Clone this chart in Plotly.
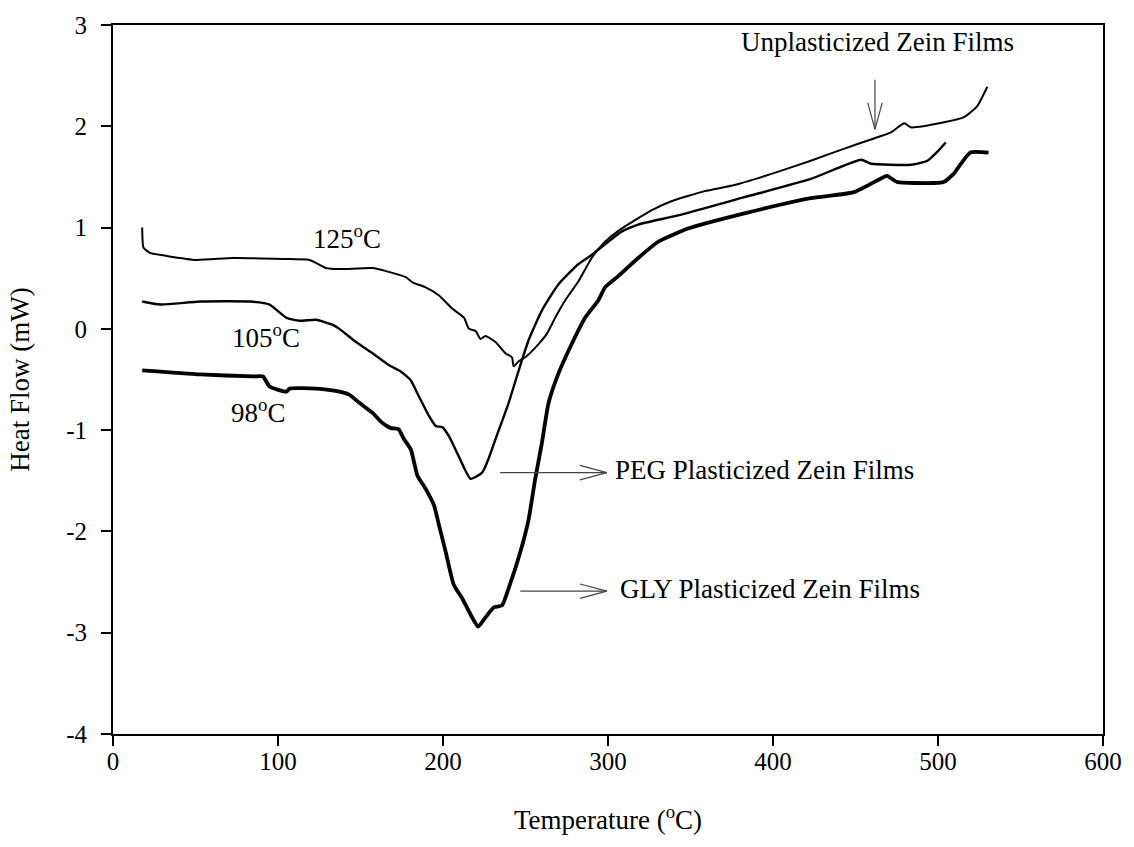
import plotly.graph_objects as go

# DSC thermograms of zein films: temperature (°C) vs heat flow (mW)
unplast_temp = [17.7, 18.5, 22.5, 32.6, 50.7, 72.8, 103, 119.1, 129.2, 137.2, 157.3, 165.4,
                177.5, 181.5, 189.5, 197.6, 205.6, 212.7, 215.7, 219.7, 222.7, 225.7, 231.8,
                237.8, 241.8, 242.8, 245.9, 249.9, 257.9, 262.9, 268, 274, 282.1, 290.1,
                298.2, 308.2, 326.3, 338.4, 358.6, 376.7, 402.8, 422.9, 443.3, 459.4, 471.5,
                479.6, 483.5, 503.7, 515.8, 523.8, 529.9]
unplast_flow = [1.00, 0.80, 0.75, 0.72, 0.68, 0.70, 0.69, 0.68, 0.60, 0.59, 0.60, 0.57,
                0.51, 0.46, 0.41, 0.33, 0.20, 0.11, 0.00, -0.02, -0.10, -0.07, -0.13,
                -0.24, -0.28, -0.37, -0.32, -0.28, -0.15, -0.05, 0.11, 0.28, 0.47, 0.70,
                0.86, 0.99, 1.17, 1.26, 1.36, 1.42, 1.55, 1.66, 1.78, 1.87, 1.94,
                2.03, 1.99, 2.04, 2.09, 2.20, 2.39]

peg_temp = [17.7, 28.6, 52.7, 82.9, 94.9, 105, 113.1, 123.1, 133.2, 137.2, 147.3, 157.3,
            167.4, 174.4, 180.5, 185.5, 191.5, 195.6, 199.6, 203.6, 209.6, 216.7, 223.7,
            226.7, 231.8, 239.8, 245.9, 251.9, 259.9, 270, 282.1, 290.1, 308.2, 318.3,
            342.5, 382.7, 422.9, 453.3, 459.4, 483.5, 493.6, 499.7, 504.7]
peg_flow = [0.27, 0.24, 0.27, 0.27, 0.24, 0.11, 0.08, 0.09, 0.04, 0.00, -0.13, -0.24,
            -0.36, -0.42, -0.51, -0.67, -0.86, -0.96, -0.97, -1.06, -1.26, -1.48, -1.42,
            -1.32, -1.09, -0.73, -0.41, -0.11, 0.18, 0.44, 0.64, 0.73, 0.96, 1.03,
            1.12, 1.30, 1.48, 1.67, 1.63, 1.62, 1.66, 1.75, 1.84]

gly_temp = [17.7, 52.7, 84.9, 90.9, 94.9, 105, 107, 123.1, 137.2, 143.2, 149.3, 157.3,
            163.3, 168.4, 173, 176.4, 180.5, 182.5, 184.5, 189.5, 194.5, 197.6, 201.6,
            206.6, 211.6, 216.7, 221.3, 225.7, 230.8, 235.8, 239.8, 246.9, 251.9, 255.9,
            259.9, 264, 270, 278, 286.1, 294.1, 298.2, 306.2, 318.3, 330.4, 348.5,
            382.7, 422.9, 449.1, 467.2, 469.2, 475.2, 497.4, 503.4, 509.4, 519.5, 530.6]
gly_flow = [-0.41, -0.45, -0.47, -0.47, -0.57, -0.62, -0.59, -0.59, -0.62, -0.65, -0.73, -0.83,
            -0.93, -0.98, -0.99, -1.09, -1.19, -1.32, -1.45, -1.58, -1.74, -1.94, -2.20,
            -2.53, -2.66, -2.82, -2.94, -2.85, -2.75, -2.73, -2.56, -2.20, -1.88, -1.48,
            -1.13, -0.73, -0.44, -0.15, 0.11, 0.28, 0.41, 0.52, 0.70, 0.86, 0.99,
            1.14, 1.29, 1.35, 1.50, 1.51, 1.45, 1.44, 1.45, 1.53, 1.74, 1.74]

x_ticks = [0, 100, 200, 300, 400, 500, 600]
y_ticks = [-4, -3, -2, -1, 0, 1, 2, 3]
y_tick_text = ["-4", "-3", "-2", "-1", "0", "1", "2", "3"]

# Onset-temperature labels next to each curve
onset_labels = ["125<sup>o</sup>C", "105<sup>o</sup>C", "98<sup>o</sup>C"]
onset_x = [141.7, 92.5, 87.7]
onset_y = [0.91, -0.07, -0.81]

# Curve names with pointer arrows (tail -> tip)
name_labels = ["Unplasticized Zein Films", "PEG Plasticized Zein Films", "GLY Plasticized Zein Films"]
name_x = [463.6, 302.8, 306.2]
name_y = [2.83, -1.39, -2.57]
name_anchor = ["center", "left", "left"]
arrow_tail = [(461.8, 2.46), (234.6, -1.42), (246.8, -2.59)]
arrow_tip = [(461.8, 1.97), (299.3, -1.42), (299.3, -2.59)]

W, H = 1134, 847
M_L, M_R, M_T, M_B = 113, 28, 18, 113
X_RANGE = [0, 600]
Y_RANGE = [-4, 3]
px_per_x = (W - M_L - M_R) / (X_RANGE[1] - X_RANGE[0])
px_per_y = (H - M_T - M_B) / (Y_RANGE[1] - Y_RANGE[0])

SERIF = "Liberation Serif, Times New Roman, serif"

fig = go.Figure()
fig.add_trace(go.Scatter(x=unplast_temp, y=unplast_flow, mode="lines",
                         line=dict(color="black", width=2, shape="spline", smoothing=0.5),
                         name="Unplasticized"))
fig.add_trace(go.Scatter(x=peg_temp, y=peg_flow, mode="lines",
                         line=dict(color="black", width=2.4, shape="spline", smoothing=0.5),
                         name="PEG"))
fig.add_trace(go.Scatter(x=gly_temp, y=gly_flow, mode="lines",
                         line=dict(color="black", width=3.8, shape="spline", smoothing=0.5),
                         name="GLY"))

annotations = []
for t, x, y in zip(onset_labels, onset_x, onset_y):
    annotations.append(dict(x=x, y=y, xref="x", yref="y", text=t, showarrow=False,
                            xanchor="center", yanchor="middle",
                            font=dict(family=SERIF, size=27, color="black")))
for t, x, y, a in zip(name_labels, name_x, name_y, name_anchor):
    annotations.append(dict(x=x, y=y, xref="x", yref="y", text=t, showarrow=False,
                            xanchor=a, yanchor="middle",
                            font=dict(family=SERIF, size=27, color="black")))

# Arrows with open chevron heads
shapes = []
HEAD_LEN, HEAD_HALF = 27, 7.3
arrow_line = dict(color="#444444", width=1.2)
for (x0, y0), (x1, y1) in zip(arrow_tail, arrow_tip):
    shapes.append(dict(type="line", xref="x", yref="y", x0=x0, y0=y0, x1=x1, y1=y1, line=arrow_line))
    if y0 == y1:  # horizontal, pointing right
        bx = x1 - HEAD_LEN / px_per_x
        dy = HEAD_HALF / px_per_y
        shapes.append(dict(type="line", xref="x", yref="y", x0=bx, y0=y1 + dy, x1=x1, y1=y1, line=arrow_line))
        shapes.append(dict(type="line", xref="x", yref="y", x0=bx, y0=y1 - dy, x1=x1, y1=y1, line=arrow_line))
    else:  # vertical, pointing down
        by = y1 + HEAD_LEN / px_per_y
        dx = HEAD_HALF / px_per_x
        shapes.append(dict(type="line", xref="x", yref="y", x0=x1 - dx, y0=by, x1=x1, y1=y1, line=arrow_line))
        shapes.append(dict(type="line", xref="x", yref="y", x0=x1 + dx, y0=by, x1=x1, y1=y1, line=arrow_line))

fig.update_layout(
    width=W, height=H,
    margin=dict(l=M_L, r=M_R, t=M_T, b=M_B),
    paper_bgcolor="white", plot_bgcolor="white",
    showlegend=False,
    font=dict(family=SERIF, color="black"),
    annotations=annotations,
    shapes=shapes,
)
fig.update_xaxes(
    range=X_RANGE, tickvals=x_ticks, ticks="outside", ticklen=10, tickwidth=1.5,
    tickcolor="black", showline=True, linecolor="black", linewidth=2, mirror=True,
    showgrid=False, zeroline=False, tickfont=dict(family=SERIF, size=25, color="black"),
    ticklabelstandoff=-6,
    title=dict(text="Temperature (<sup>o</sup>C)", font=dict(family=SERIF, size=27, color="black"),
               standoff=36),
)
fig.update_yaxes(
    range=Y_RANGE, tickvals=y_ticks, ticktext=y_tick_text, ticks="outside", ticklen=10,
    tickwidth=1.5, tickcolor="black", showline=True, linecolor="black", linewidth=2,
    mirror=True, showgrid=False, zeroline=False,
    tickfont=dict(family=SERIF, size=25, color="black"),
    ticklabelstandoff=9,
    title=dict(text="Heat Flow (mW)", font=dict(family=SERIF, size=27, color="black"),
               standoff=29),
)

fig.write_html("out.html")
